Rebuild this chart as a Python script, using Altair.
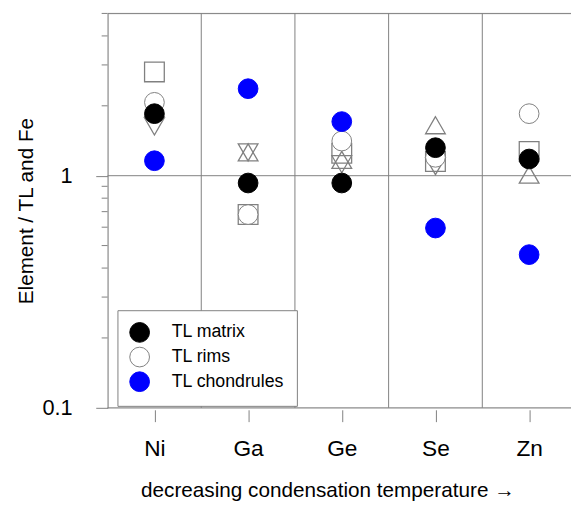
import altair as alt
import pandas as pd

elements = ["Ni", "Ga", "Ge", "Se", "Zn"]
tl_matrix = [1.85, 0.93, 0.93, 1.32, 1.18]
tl_rims = [2.07, 0.68, 1.41, 1.20, 1.85]
tl_chondrules = [1.16, 2.37, 1.71, 0.595, 0.457]
other_square = [2.80, 0.68, 1.25, 1.15, 1.27]
other_tri_up = [1.95, 1.26, 1.17, 1.65, 1.01]
other_tri_down = [1.63, 1.26, 1.12, 1.10, None]
y_major = [0.1, 1]
y_minor = [0.2, 0.3, 0.4, 0.5, 0.6, 0.7, 0.8, 0.9, 2, 3, 4, 5]

series_names = ["TL matrix", "TL rims", "TL chondrules"]
fill_colors = ["black", "white", "#0000ff"]
stroke_colors = ["black", "#808080", "#0000ff"]
other_shapes = ["square", "triangle-up", "triangle-down"]

FONT = "Liberation Sans"
GREY = "#808080"

# ---- tables built from the arrays ----
main_rows = []
for name, vals in [("TL rims", tl_rims), ("TL matrix", tl_matrix), ("TL chondrules", tl_chondrules)]:
    for i, v in enumerate(vals):
        main_rows.append({"x": i, "y": v, "series": name})
main_df = pd.DataFrame(main_rows)

other_rows = []
for shp, vals in zip(other_shapes, [other_square, other_tri_up, other_tri_down]):
    for i, v in enumerate(vals):
        if v is not None:
            other_rows.append({"x": i, "y": v, "shape": shp})
other_df = pd.DataFrame(other_rows)

sep_df = pd.DataFrame({"x": [i + 0.5 for i in range(len(elements) - 1)]})
hline_df = pd.DataFrame({"y": [1, 5]})
minor_df = pd.DataFrame({"y": y_minor})

label_expr = "[" + ",".join("'%s'" % e for e in elements) + "][datum.value]"

xscale = alt.Scale(domain=[-0.5, len(elements) - 0.553], nice=False, zero=False)
yscale = alt.Scale(type="log", domain=[0.1, 5], nice=False)

xaxis = alt.Axis(
    values=list(range(len(elements))), labelExpr=label_expr, grid=False,
    domain=False, offset=2, tickSize=12, tickColor=GREY, tickWidth=1,
    labelFont=FONT, labelFontSize=23, labelColor="black", labelPadding=16,
    title="decreasing condensation temperature \u2192", titleFont=FONT,
    titleFontSize=21, titleFontWeight="normal", titleColor="black",
    titleX=223, titleY=88, titleBaseline="alphabetic", titleAlign="center",
)
yaxis = alt.Axis(
    values=y_major, format="~g", grid=False, domain=True, domainColor=GREY,
    tickSize=12, tickColor=GREY, labelFont=FONT, labelFontSize=22,
    labelColor="black", labelPadding=24,
    title="Element / TL and Fe", titleFont=FONT, titleFontSize=21,
    titleFontWeight="normal", titleColor="black", titleX=-76, titleY=200,
    titleBaseline="alphabetic", titleAlign="center", titleAngle=270,
)


def X(field="x:Q"):
    return alt.X(field, scale=xscale, axis=xaxis)


def Y(field="y:Q"):
    return alt.Y(field, scale=yscale, axis=yaxis)


seps = alt.Chart(sep_df).mark_rule(color=GREY, strokeWidth=1).encode(x=X())
hlines = alt.Chart(hline_df).mark_rule(color=GREY, strokeWidth=1).encode(y=Y())
bottom = alt.Chart(pd.DataFrame({"y": [0.1]})).mark_rule(color=GREY, strokeWidth=1).encode(y=Y())
minors = alt.Chart(minor_df).mark_rule(color=GREY, strokeWidth=1).encode(
    y=Y(), x=alt.value(-6), x2=alt.value(0)
)

others = alt.Chart(other_df).mark_point(
    filled=False, stroke=GREY, strokeWidth=1.3, size=400, opacity=1
).encode(
    x=X(), y=Y(),
    shape=alt.Shape("shape:N", scale=alt.Scale(domain=other_shapes, range=other_shapes), legend=None),
)

legend = alt.Legend(
    title=None, orient="none", legendX=10, legendY=301,
    strokeColor=GREY, fillColor="white", padding=12, symbolSize=400,
    symbolType="circle", symbolStrokeWidth=1, symbolOpacity=1,
    labelFont=FONT, labelFontSize=18, labelColor="black", labelOffset=22,
    rowPadding=0, offset=0,
)

mains = alt.Chart(main_df).mark_point(
    shape="circle", filled=True, size=400, opacity=1, strokeWidth=1
).encode(
    x=X(), y=Y(),
    fill=alt.Fill("series:N", scale=alt.Scale(domain=series_names, range=fill_colors), legend=legend),
    stroke=alt.Stroke("series:N", scale=alt.Scale(domain=series_names, range=stroke_colors), legend=legend),
)

chart = alt.layer(seps, hlines, bottom, minors, others, mains).properties(
    width=470, height=400,
    autosize=alt.AutoSizeParams(type="none"),
    padding={"left": 101, "top": 2, "right": 0, "bottom": 92},
).configure_view(stroke=None).configure(background="white")

chart.save("out.html", embed_options={"renderer": "svg", "actions": False})
